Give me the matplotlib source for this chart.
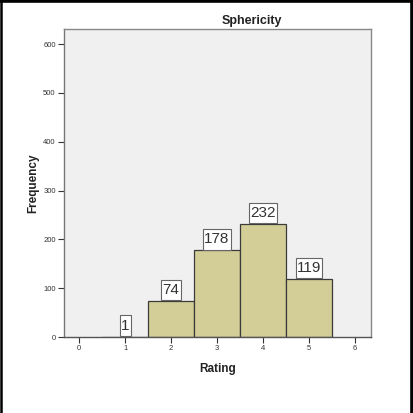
import matplotlib
matplotlib.use("Agg")
import matplotlib.pyplot as plt
from matplotlib.lines import Line2D
from matplotlib.path import Path

ratings = [1, 2, 3, 4, 5]
frequencies = [1, 74, 178, 232, 119]
xticks = [0, 1, 2, 3, 4, 5, 6]
yticks = [0, 100, 200, 300, 400, 500, 600]

plt.rcParams['font.family'] = ['Arial', 'Liberation Sans', 'DejaVu Sans']

fig = plt.figure(figsize=(4.13, 4.13), dpi=100)
fig.patch.set_facecolor('white')
W = H = 413.0
ax = fig.add_axes([64 / W, 1 - 337 / H, (371 - 64) / W, (337 - 29) / H])
ax.set_facecolor('#f0f0f0')

PADX, PADY = 0.08, 0.22  # fraction of font size


def label_box(x0, y0, width, height, mutation_size):
    px = PADX * mutation_size
    py = PADY * mutation_size
    x0, y0 = x0 - px, y0 - py
    x1, y1 = x0 + width + 2 * px, y0 + height + 2 * py
    return Path([(x0, y0), (x1, y0), (x1, y1), (x0, y1), (x0, y0)],
                closed=True)


ax.bar(ratings, frequencies, width=1.0, color='#d3ce97', edgecolor='#3a3a3a', linewidth=0.9, zorder=2)
fs = 11
for x, v in zip(ratings, frequencies):
    ax.annotate(str(v), (x, v), xytext=(0, PADY * fs + 0.3), textcoords='offset points',
                ha='center', va='bottom', fontsize=fs, color='#333333', zorder=4,
                bbox=dict(boxstyle=label_box, facecolor='white', edgecolor='#666666', linewidth=0.8))

ax.set_xlim(-0.33, 6.35)
ax.set_ylim(0, 631)
ax.set_xticks(xticks)
ax.set_yticks(yticks)
ax.tick_params(axis='both', labelsize=5.5, colors='#333333', length=4, width=0.8, pad=2)
for s in ax.spines.values():
    s.set_color('#888888')
    s.set_linewidth(1.0)
ax.spines['left'].set_color('#777777')
ax.spines['bottom'].set_color('#555555')

ax.set_xlabel('Rating', fontsize=8.5, fontweight='bold', color='#222222', labelpad=8)
ax.set_ylabel('Frequency', fontsize=8.5, fontweight='bold', color='#222222', labelpad=3)
fig.text(252 / W, 1 - 21 / H, 'Sphericity', ha='center', va='center', fontsize=9, fontweight='bold', color='#222222')

# outer black frame (top, left, right)
fig.add_artist(Line2D([0.5 / W, 412 / W], [1 - 1 / H, 1 - 1 / H], color='black', linewidth=2.6, transform=fig.transFigure))
fig.add_artist(Line2D([1 / W, 1 / W], [0, 1], color='black', linewidth=1.8, transform=fig.transFigure))
fig.add_artist(Line2D([411.5 / W, 411.5 / W], [0, 1], color='black', linewidth=2.6, transform=fig.transFigure))

fig.savefig('out.png', dpi=100, facecolor='white')
